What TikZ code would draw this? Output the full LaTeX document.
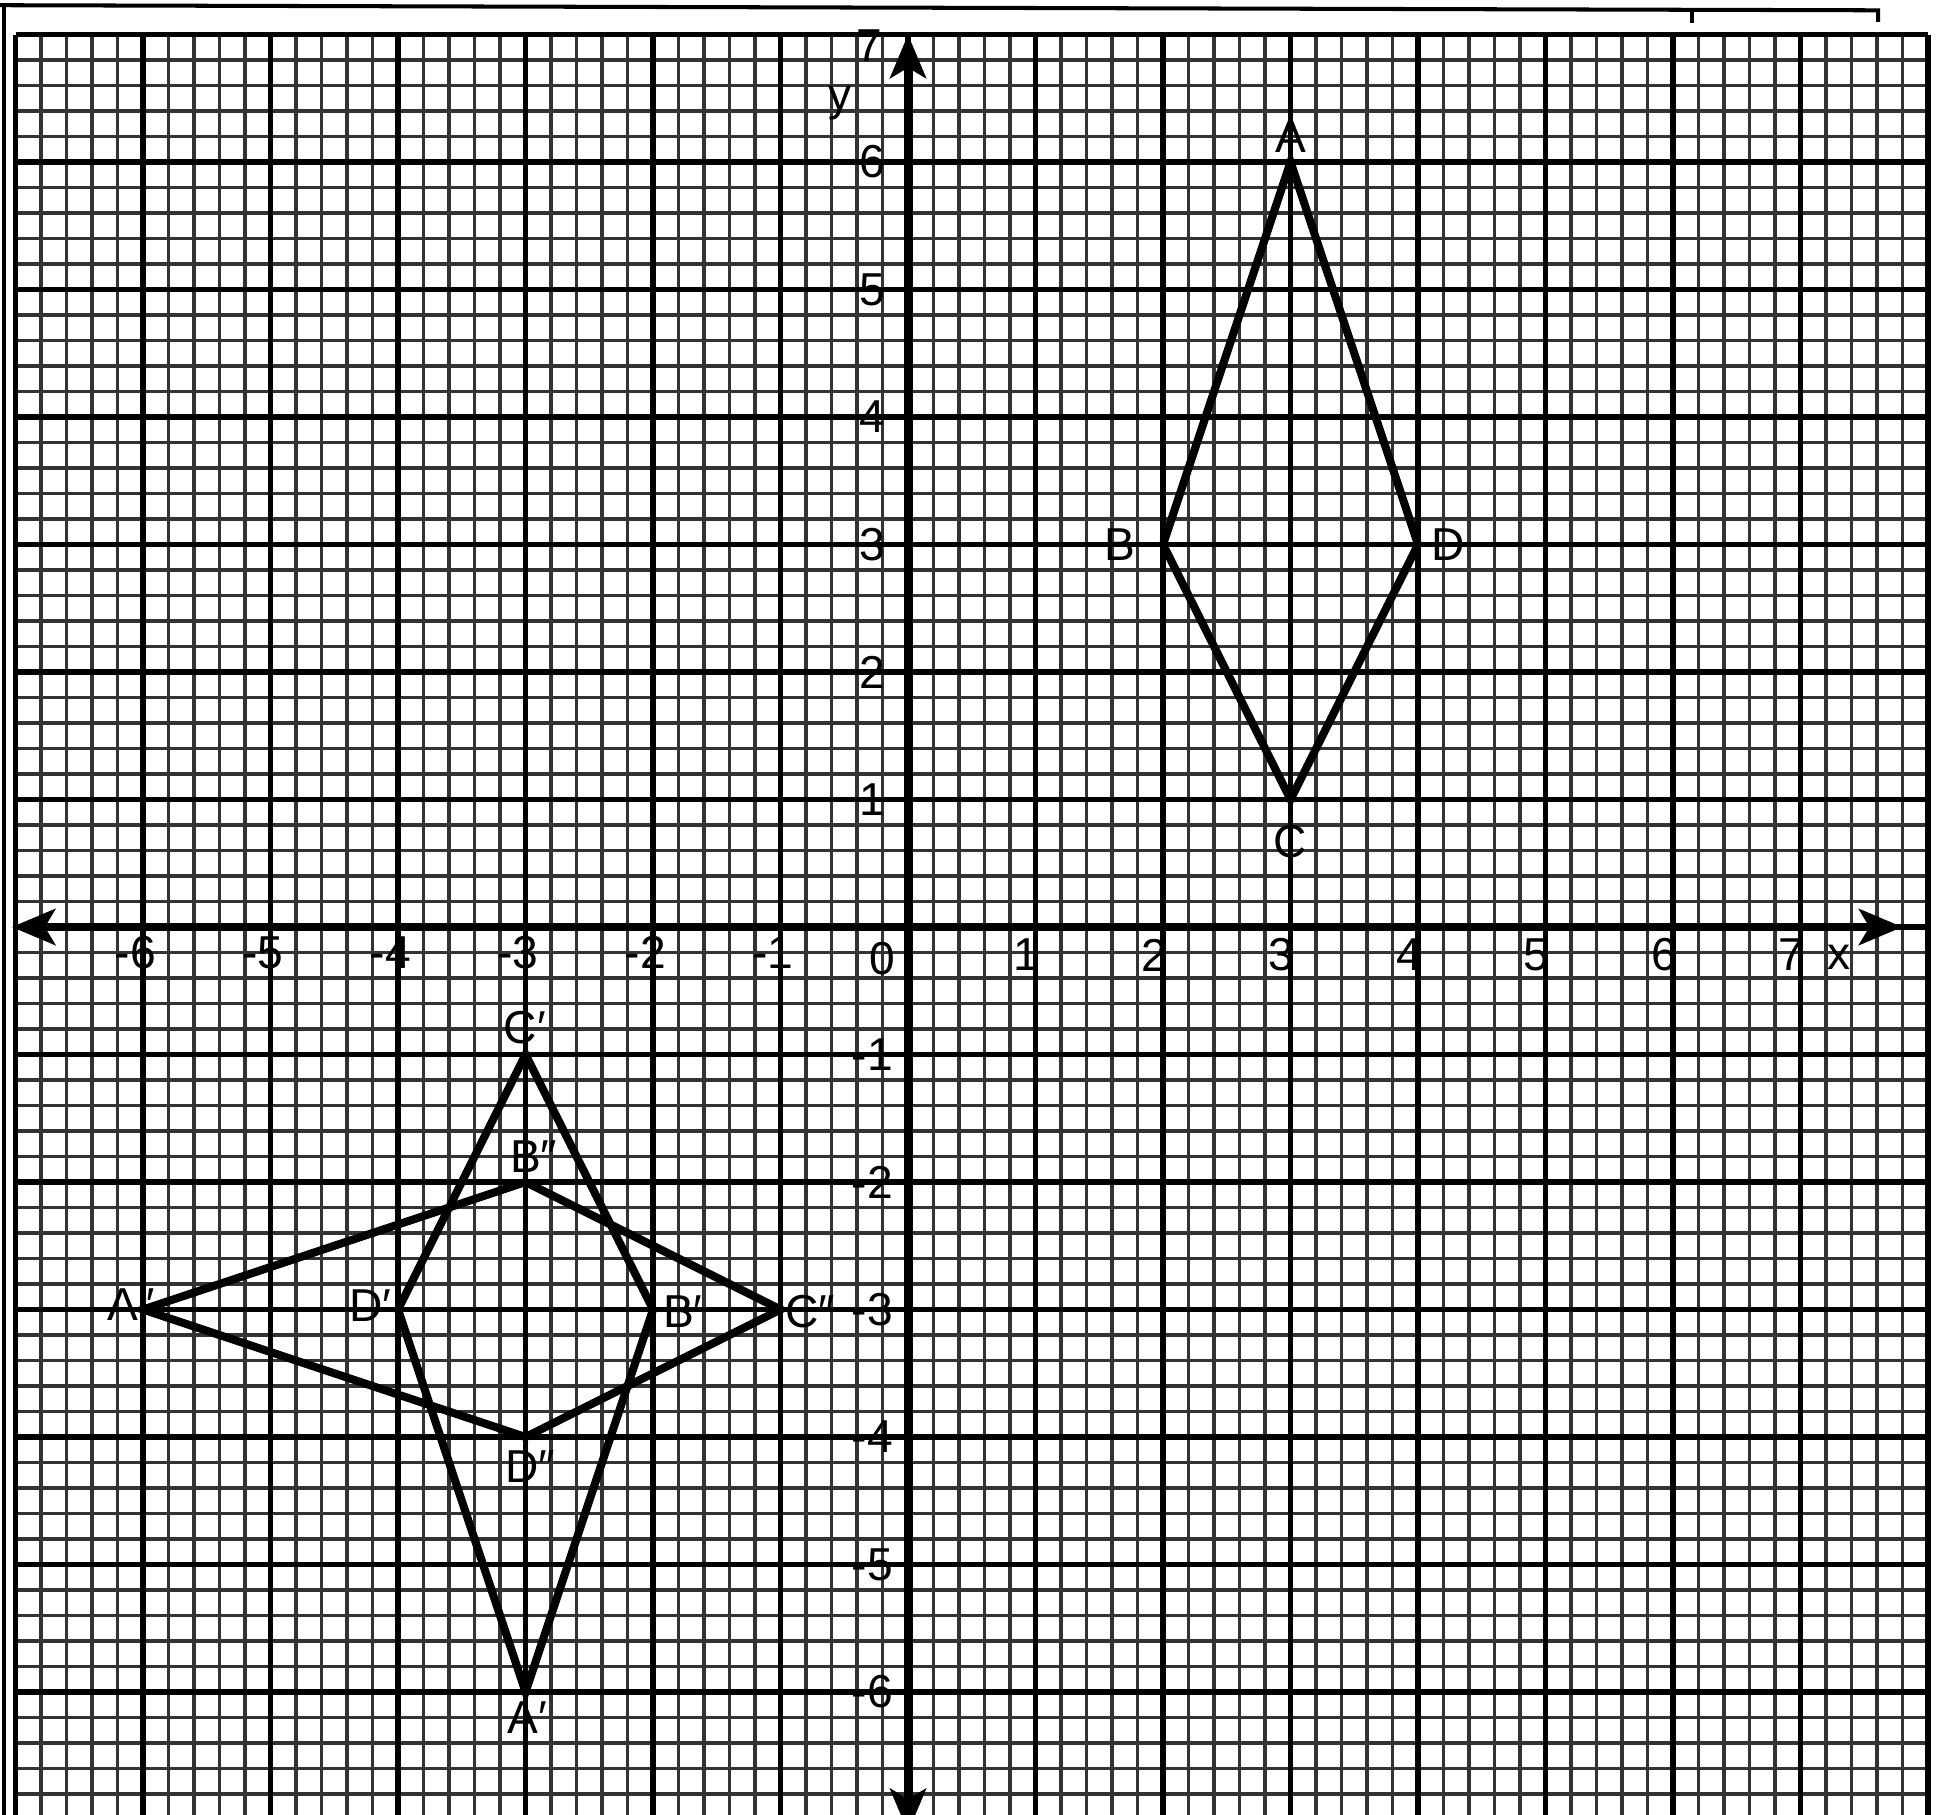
\documentclass[tikz,border=0pt]{standalone}
\usepackage{fontspec}
\setmainfont{Liberation Sans}
\usetikzlibrary{arrows.meta}
\begin{document}
\begin{tikzpicture}[
  minorgrid/.style={line width=0.7pt, black!80},
  majorgrid/.style={line width=1.2pt, black},
  paperline/.style={line width=0.9pt, black},
  axistip/.tip={Stealth[length=3.4mm,width=2.8mm,inset=0.8mm]},
  axisline/.style={line width=2pt, black, axistip-axistip},
  shapeline/.style={line width=1.8pt, black, line join=miter},
  lbl/.style={inner sep=0pt, font=\fontsize{10.3}{12}\selectfont},
]
\useasboundingbox (-7.122,-6.957) rectangle (8.094,7.271);
\fill[white] (-7.122,-6.957) rectangle (8.094,7.271);
\begin{scope}
  \clip (-7.122,-6.957) rectangle (8.094,7.271);
  \foreach \i in {0,...,75} {\draw[minorgrid] ({-7+0.2*\i},-7.1) -- ({-7+0.2*\i},7);}
  \foreach \j in {0,...,70} {\draw[minorgrid] (-7,{7-0.2*\j}) -- (8,{7-0.2*\j});}
  \foreach \x in {-7,...,8} {\draw[majorgrid] (\x,-7.1) -- (\x,7);}
  \foreach \y in {-7,...,7} {\draw[majorgrid] (-7,\y) -- (8,\y);}
  % paper border
  \coordinate (pTL) at (-7.122,7.23);
  \coordinate (pTR) at (7.608,7.19);
  \coordinate (pTRb) at (7.608,7.10);
  \coordinate (pTk) at (6.149,7.20);
  \coordinate (pTkb) at (6.149,7.09);
  \coordinate (pLT) at (-7.09,7.23);
  \coordinate (pLB) at (-7.09,-7.1);
  \draw[paperline] (pTL) -- (pTR) -- (pTRb);
  \draw[paperline] (pTk) -- (pTkb);
  \draw[paperline] (pLT) -- (pLB);
  % axes
  \coordinate (xl) at (-7.03,0);
  \coordinate (xr) at (7.8,0);
  \coordinate (yb) at (0,-7.1);
  \coordinate (yt) at (0,7.0);
  \draw[axisline] (xl) -- (xr);
  \draw[axisline] (yb) -- (yt);
\end{scope}
% original figure
\coordinate (A) at (3,6);
\coordinate (B) at (2,3);
\coordinate (C) at (3,1);
\coordinate (D) at (4,3);
\draw[shapeline] (A) -- (B) -- (C) -- (D) -- cycle;
% first image
\coordinate (Ap) at (-3,-6);
\coordinate (Bp) at (-2,-3);
\coordinate (Cp) at (-3,-1);
\coordinate (Dp) at (-4,-3);
\draw[shapeline] (Cp) -- (Bp) -- (Ap) -- (Dp) -- cycle;
% second image
\coordinate (App) at (-6,-3);
\coordinate (Bpp) at (-3,-2);
\coordinate (Cpp) at (-1,-3);
\coordinate (Dpp) at (-3,-4);
\draw[shapeline] (App) -- (Bpp) -- (Cpp) -- (Dpp) -- cycle;
% vertex labels
\node[lbl] (lA) at (3,6.2) {A};
\node[lbl] (lB) at (1.66,3) {B};
\node[lbl] (lC) at (3,0.67) {C};
\node[lbl] (lD) at (4.24,3) {D};
\node[lbl] (lCp) at (-3.04,-0.79) {C\rlap{′}};
\node[lbl] (lBp) at (-1.8,-3.02) {B\rlap{′}};
\node[lbl] (lAp) at (-3.02,-6.2) {A\rlap{′}};
\node[lbl] (lDp) at (-4.25,-2.97) {D\rlap{′}};
\node[lbl] (lApp) at (-6.16,-2.96) {A\rlap{″}};
\node[lbl] (lBpp) at (-3.0,-1.8) {B\rlap{″}};
\node[lbl] (lCpp) at (-0.83,-3.02) {C\rlap{″}};
\node[lbl] (lDpp) at (-3.03,-4.23) {D\rlap{″}};
% axis labels
\foreach \v in {1,...,7} {\node[lbl] (xt\v) at ({\v-0.07},-0.22) {\v};}
\foreach \v in {1,...,6} {\node[lbl] (xtm\v) at (-\v,-0.2) {\llap{-}\v};}
\node[lbl] (xt0) at (-0.2,-0.25) {0};
\node[lbl] (xlab) at (7.3,-0.24) {x};
\foreach \v in {1,...,6} {\node[lbl] (yt\v) at (-0.28,\v) {\v};}
\foreach \v in {1,...,6} {\node[lbl] (ytm\v) at (-0.22,-\v) {\llap{-}\v};}
\node[lbl] (yt7) at (-0.3,6.91) {7};
\node[lbl] (ylab) at (-0.53,6.46) {y};
\end{tikzpicture}
\end{document}
